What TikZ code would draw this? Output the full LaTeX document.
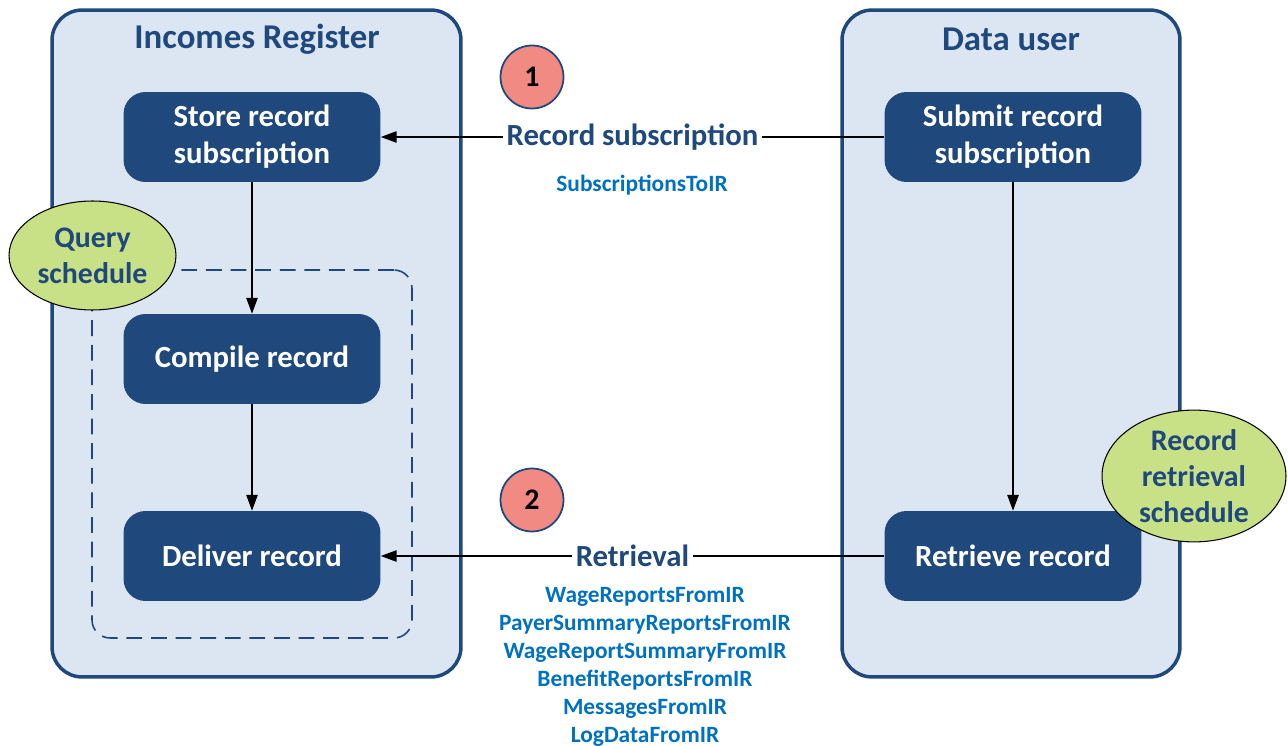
\documentclass[tikz,border=0pt]{standalone}
\usepackage{fontspec}
\setmainfont{Carlito}
\usetikzlibrary{arrows.meta,shapes.geometric}
\definecolor{irblue}{HTML}{1F497D}
\definecolor{irpale}{HTML}{DCE6F2}
\definecolor{irgreen}{HTML}{C8E086}
\definecolor{irred}{HTML}{F08A82}
\definecolor{irlink}{HTML}{0070C0}
\tikzset{
  lane/.style={draw=irblue, line width=2pt, fill=irpale, rounded corners=0.6cm, minimum height=13.34cm, minimum width=#1},
  lanetitle/.style={text=irblue, font=\bfseries\fontsize{19.8}{23}\selectfont},
  task/.style={fill=irblue, text=white, rounded corners=0.44cm, minimum width=5.14cm, minimum height=1.8cm, align=center, font=\bfseries\fontsize{17.5}{21}\selectfont},
  sched/.style={ellipse, draw=black, line width=0.6pt, fill=irgreen, inner sep=0pt, text=irblue, align=center, font=\bfseries\fontsize{17}{20.5}\selectfont},
  stepno/.style={circle, draw=irblue, line width=1pt, fill=irred, minimum size=1.26cm, inner sep=0pt, font=\bfseries\fontsize{17}{19}\selectfont},
  flow/.style={fill=white, text=irblue, inner sep=2pt, font=\bfseries\fontsize{17.5}{21}\selectfont},
  msg/.style={text=irlink, align=center, font=\bfseries\fontsize{13.3}{15.9}\selectfont},
  >={Triangle[length=9pt,width=6.5pt]}
}
\begin{document}
\begin{tikzpicture}[x=0.02cm, y=-0.02cm]
  \useasboundingbox (0,0) rectangle (1288,746);
  \node[lane=8.18cm] (ir) at (256.5,343.5) {};
  \node[lane=6.76cm] (user) at (1011,343.5) {};
  \node[draw=irblue, line width=0.9pt, dash pattern=on 9pt off 5pt, rounded corners=0.36cm, minimum width=6.4cm, minimum height=7.36cm] (batch) at (252,454) {};
  \node[lanetitle] (irtitle) at (257,39) {Incomes Register};
  \node[lanetitle] (usertitle) at (1011,39) {Data user};

  \node[task] (store) at (252,137) {Store record\\subscription};
  \node[task] (compile) at (252,359) {Compile record};
  \node[task] (deliver) at (252,556) {Deliver record};
  \node[task] (submit) at (1013,137) {Submit record\\subscription};
  \node[task] (retrieve) at (1013,556) {Retrieve record};

  \node[sched, minimum width=3.34cm, minimum height=2.18cm] (query) at (92.5,255.5) {Query\\schedule};
  \node[sched, minimum width=3.68cm, minimum height=2.26cm] (rsched) at (1194,476) {Record\\retrieval\\schedule};

  \node[stepno] (one) at (532,77) {1};
  \node[stepno] (two) at (532,500) {2};
  \node[msg] (subs) at (642,185) {SubscriptionsToIR};
  \node[msg] (msgs) at (645,667) {WageReportsFromIR\\PayerSummaryReportsFromIR\\WageReportSummaryFromIR\\BenefitReportsFromIR\\MessagesFromIR\\LogDataFromIR};

  \draw[->, line width=0.75pt] (submit) to node[flow] {Record subscription} (store);
  \draw[->, line width=0.75pt] (retrieve) to node[flow] {Retrieval} (deliver);
  \draw[->, line width=0.75pt] (store) to (compile); \draw[->, line width=0.75pt] (compile) to (deliver); \draw[->, line width=0.75pt] (submit) to (retrieve);
\end{tikzpicture}
\end{document}
